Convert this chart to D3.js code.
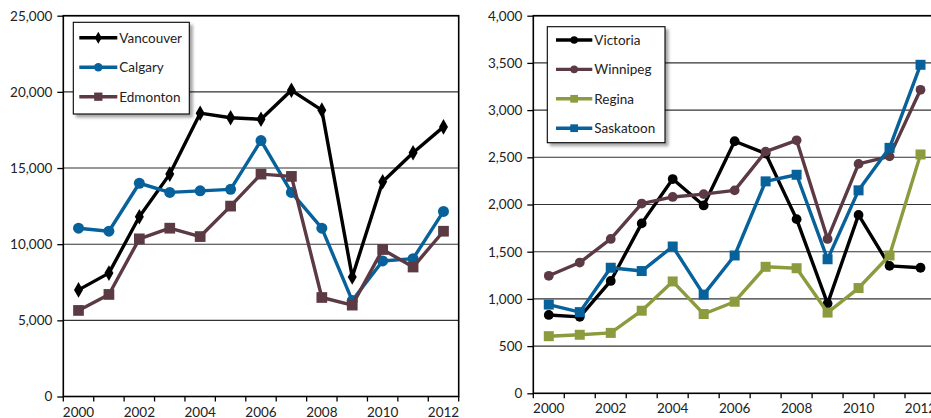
<!DOCTYPE html>
<html>
<head>
<meta charset="utf-8">
<script src="https://cdn.jsdelivr.net/npm/d3@7"></script>
<style>
  html, body { margin: 0; padding: 0; background: #fff; }
  svg { display: block; }
  text { font-family: Lato, "Noto Sans", sans-serif; fill: #222; }
</style>
</head>
<body>
<svg id="chart" width="931" height="418"></svg>
<script>
// Years along the x axis
const years = [2000, 2001, 2002, 2003, 2004, 2005, 2006, 2007, 2008, 2009, 2010, 2011, 2012];
const yearLabels = ["2000", "2002", "2004", "2006", "2008", "2010", "2012"];

// Large cities
const vancouver = [7000, 8100, 11800, 14600, 18600, 18300, 18200, 20100, 18800, 7850, 14100, 16000, 17700];
const calgary   = [11050, 10850, 14000, 13400, 13500, 13600, 16800, 13400, 11050, 6300, 8900, 9050, 12150];
const edmonton  = [5650, 6700, 10350, 11050, 10500, 12500, 14600, 14450, 6500, 6000, 9650, 8500, 10850];
const leftTicks = [0, 5000, 10000, 15000, 20000, 25000];

// Smaller cities
const victoria  = [830, 810, 1190, 1800, 2270, 1990, 2670, 2540, 1845, 950, 1890, 1350, 1330];
const winnipeg  = [1245, 1385, 1635, 2010, 2080, 2110, 2150, 2560, 2680, 1635, 2430, 2510, 3215];
const regina    = [605, 620, 640, 875, 1185, 840, 970, 1340, 1325, 855, 1115, 1460, 2530];
const saskatoon = [940, 860, 1330, 1295, 1555, 1045, 1460, 2245, 2315, 1420, 2150, 2600, 3480];
const rightTicks = [0, 500, 1000, 1500, 2000, 2500, 3000, 3500, 4000];

const BLUE = "#07619a", MAROON = "#5c3a44", OLIVE = "#8c9b3e", BLACK = "#000";

const svg = d3.select("#chart");

// soft shadow for the legend boxes
const defs = svg.append("defs");
const f = defs.append("filter").attr("id", "shadow")
  .attr("x", "-10%").attr("y", "-10%").attr("width", "130%").attr("height", "130%");
f.append("feDropShadow").attr("dx", 3).attr("dy", 3).attr("stdDeviation", 1.6)
  .attr("flood-color", "#000").attr("flood-opacity", 0.35);

function symbolFor(kind, size) {
  const t = kind === "diamond" ? d3.symbolDiamond : kind === "square" ? d3.symbolSquare : d3.symbolCircle;
  return d3.symbol().type(t).size(size)();
}

function panel(opt) {
  const g = svg.append("g");
  const x = d3.scaleBand().domain(years).range([opt.x0, opt.x1]);
  const y = d3.scaleLinear().domain(opt.domain).range([opt.yb, opt.yt]);

  // horizontal gridlines
  g.append("g").selectAll("line").data(opt.ticks.slice(1)).join("line")
    .attr("x1", opt.x0).attr("x2", opt.x1)
    .attr("y1", d => y(d)).attr("y2", d => y(d))
    .attr("stroke", "#333").attr("stroke-width", 1.1);

  // y axis
  const ya = d3.axisLeft(y).tickValues(opt.ticks).tickFormat(d3.format(",")).tickSize(6).tickPadding(5);
  const yg = g.append("g").attr("transform", `translate(${opt.x0},0)`).call(ya);
  yg.select(".domain").remove();
  yg.selectAll(".tick line").attr("stroke", "#000").attr("stroke-width", 1.3);
  yg.selectAll("text").style("font-size", "13.5px").attr("fill", "#222");

  // x axis: ticks between categories, labels every other year
  const xg = g.append("g");
  const edges = years.map(d => x(d)).concat([x(years[years.length - 1]) + x.bandwidth()]);
  xg.selectAll("line").data(edges).join("line")
    .attr("x1", d => d).attr("x2", d => d)
    .attr("y1", opt.yb).attr("y2", opt.yb + 5)
    .attr("stroke", "#000").attr("stroke-width", 1.3);
  xg.selectAll("text").data(yearLabels).join("text")
    .attr("x", d => x(+d) + x.bandwidth() / 2)
    .attr("y", opt.yb + 20)
    .attr("text-anchor", "middle")
    .style("font-size", "13.5px")
    .text(d => d);

  // plot frame
  g.append("rect").attr("x", opt.x0).attr("y", opt.yt)
    .attr("width", opt.x1 - opt.x0).attr("height", opt.yb - opt.yt)
    .attr("fill", "none").attr("stroke", "#000").attr("stroke-width", 1.6);

  // series
  const line = d3.line().x((d, i) => x(years[i]) + x.bandwidth() / 2).y(d => y(d));
  opt.series.forEach(s => {
    const sg = g.append("g");
    sg.append("path").datum(s.values).attr("d", line)
      .attr("fill", "none").attr("stroke", s.color).attr("stroke-width", 3.4)
      .attr("stroke-linejoin", "round");
    sg.selectAll("path.m").data(s.values).join("path").attr("class", "m")
      .attr("transform", (d, i) => `translate(${x(years[i]) + x.bandwidth() / 2},${y(d)})`)
      .attr("d", symbolFor(s.marker, s.size))
      .attr("fill", s.color);
  });

  // legend
  const L = opt.legend;
  const lg = g.append("g");
  lg.append("rect").attr("x", L.x).attr("y", L.y).attr("width", L.w).attr("height", L.h)
    .attr("fill", "#fff").attr("stroke", "#000").attr("stroke-width", 1.1)
    .attr("filter", "url(#shadow)");
  opt.series.forEach((s, i) => {
    const cy = L.firstRow + i * L.step;
    lg.append("line").attr("x1", L.lx1).attr("x2", L.lx2).attr("y1", cy).attr("y2", cy)
      .attr("stroke", s.color).attr("stroke-width", 3.4);
    lg.append("path").attr("transform", `translate(${(L.lx1 + L.lx2) / 2},${cy})`)
      .attr("d", symbolFor(s.marker, s.size * 0.6)).attr("fill", s.color);
    lg.append("text").attr("x", L.lx2 + 2).attr("y", cy).attr("dy", "0.36em")
      .style("font-size", "13.5px").text(s.name);
  });
}

panel({
  x0: 63.3, x1: 458.7, yt: 15.7, yb: 396.5, domain: [0, 25000], ticks: leftTicks,
  series: [
    { name: "Vancouver", values: vancouver, color: BLACK, marker: "diamond", size: 70 },
    { name: "Calgary", values: calgary, color: BLUE, marker: "circle", size: 95 },
    { name: "Edmonton", values: edmonton, color: MAROON, marker: "square", size: 115 }
  ],
  legend: { x: 73.3, y: 22.3, w: 116, h: 91.7, firstRow: 37.7, step: 29.5, lx1: 79.3, lx2: 117.3 }
});

panel({
  x0: 533.3, x1: 936, yt: 15.7, yb: 393.3, domain: [0, 4000], ticks: rightTicks,
  series: [
    { name: "Victoria", values: victoria, color: BLACK, marker: "circle", size: 75 },
    { name: "Winnipeg", values: winnipeg, color: MAROON, marker: "circle", size: 75 },
    { name: "Regina", values: regina, color: OLIVE, marker: "square", size: 100 },
    { name: "Saskatoon", values: saskatoon, color: BLUE, marker: "square", size: 100 }
  ],
  legend: { x: 547.3, y: 26.7, w: 117.7, h: 116, firstRow: 40, step: 29.4, lx1: 556, lx2: 592.3 }
});
</script>
</body>
</html>
